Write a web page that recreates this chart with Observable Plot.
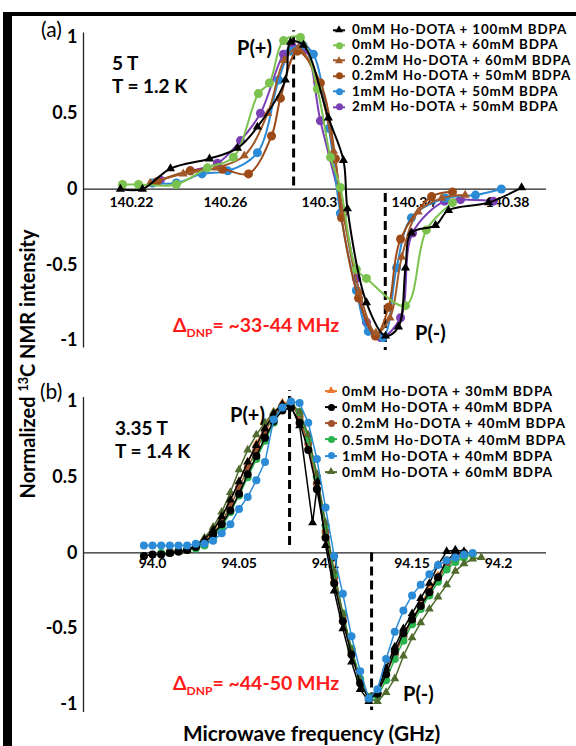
<!DOCTYPE html>
<html><head><meta charset="utf-8">
<script src="https://cdn.jsdelivr.net/npm/d3@7"></script>
<script src="https://cdn.jsdelivr.net/npm/@observablehq/plot@0.6"></script>
<style>
html,body{margin:0;padding:0;background:#fff;}
#root{position:relative;width:576px;height:746px;overflow:hidden;font-family:Lato,"Open Sans",sans-serif;color:#000;background:#fff;}
.abs{position:absolute;white-space:nowrap;line-height:1;}
.svgbox{position:absolute;left:0;}
</style></head><body><div id="root"></div>
<script>
// ---------- axes / ticks ----------
const aXDomain = [140.1996, 140.3966];
const aYDomain = [-1.05, 1.03];
const bXDomain = [93.9601, 94.2277];
const bYDomain = [-1.053, 1.026];
const yTicks = [-1, -0.5, 0, 0.5, 1];
const aTickVals = [140.22, 140.26, 140.30, 140.34, 140.38];
const aTickLabels = ["140.22", "140.26", "140.3", "140.34", "140.38"];
const bTickVals = [94.0, 94.05, 94.1, 94.15, 94.2];
const bTickLabels = ["94.0", "94.05", "94.1", "94.15", "94.2"];

// ---------- P(+)/P(-) markers ----------
const aPeakX = [140.289, 140.328];
const aPeakFrom = [0.02, -0.03];
const aPeakTo = [1.045, -1.066];
const bPeakX = [94.0792, 94.1266];
const bPeakFrom = [0.05, 0.0];
const bPeakTo = [1.07, -1.04];

// ---------- panel (a) series : [frequency GHz, normalized intensity] ----------
const a_0Ho_100BDPA = [[140.2153,0.0],[140.2247,0.0],[140.2366,0.135],[140.2532,0.2],[140.2651,0.27],[140.2736,0.41],[140.2855,0.72],[140.2877,0.97],[140.2932,0.95],[140.3038,0.47],[140.3102,0.19],[140.3119,-0.13],[140.32,-0.75],[140.3281,-0.97],[140.3336,-0.91],[140.3366,-0.52],[140.3391,-0.29],[140.3494,-0.24],[140.3549,-0.14],[140.3719,-0.09],[140.386,0.01]];
const a_0Ho_60BDPA = [[140.2162,0.03],[140.223,0.03],[140.2391,0.03],[140.2523,0.14],[140.2634,0.21],[140.274,0.63],[140.2787,0.70],[140.2847,0.98],[140.2919,1.0],[140.2991,0.66],[140.3047,0.21],[140.3089,0.01],[140.3157,-0.53],[140.32,-0.59],[140.3366,-0.77],[140.3455,-0.27],[140.3566,-0.09]];
const a_02Ho_60BDPA = [[140.228,0.04],[140.242,0.10],[140.256,0.14],[140.268,0.22],[140.278,0.50],[140.285,0.85],[140.291,0.93],[140.299,0.72],[140.306,0.25],[140.310,-0.15],[140.317,-0.68],[140.324,-0.95],[140.330,-0.85],[140.335,-0.45],[140.342,-0.15],[140.352,-0.06],[140.362,-0.04]];
const a_02Ho_50BDPA = [[140.231,0.05],[140.245,0.12],[140.2587,0.13],[140.2698,0.10],[140.2796,0.35],[140.2834,0.60],[140.2906,0.91],[140.3004,0.70],[140.3068,0.20],[140.3094,-0.19],[140.3166,-0.72],[140.3238,-0.97],[140.3294,-0.78],[140.3345,-0.33],[140.3477,-0.05],[140.3566,-0.02]];
const a_1Ho_50BDPA = [[140.229,0.04],[140.2391,0.04],[140.25,0.10],[140.261,0.12],[140.2736,0.24],[140.2826,0.72],[140.2877,0.91],[140.293,0.95],[140.2974,0.89],[140.304,0.40],[140.3089,-0.16],[140.3157,-0.67],[140.3208,-0.94],[140.327,-0.98],[140.3328,-0.52],[140.3391,-0.19],[140.3536,-0.06],[140.3664,-0.04],[140.3774,0.0]];
const a_2Ho_50BDPA = [[140.2323,0.06],[140.2451,0.12],[140.2566,0.17],[140.2664,0.32],[140.2749,0.50],[140.2847,0.89],[140.2885,0.94],[140.294,0.92],[140.3004,0.45],[140.3102,-0.16],[140.3157,-0.59],[140.32,-0.88],[140.326,-0.98],[140.3345,-0.85],[140.3396,-0.29],[140.3532,-0.08],[140.36,-0.07],[140.374,-0.08]];

// ---------- panel (b) series ----------
const b_0Ho_30BDPA = [[94.01,0.0],[94.015,0.01],[94.02,0.02],[94.025,0.04],[94.03,0.08],[94.035,0.14],[94.04,0.23],[94.045,0.35],[94.05,0.47],[94.055,0.6],[94.06,0.72],[94.065,0.83],[94.07,0.93],[94.075,0.99],[94.08,1.0],[94.085,0.9],[94.09,0.7],[94.095,0.44],[94.1,0.12],[94.105,-0.18],[94.11,-0.44],[94.115,-0.66],[94.12,-0.85],[94.125,-0.96],[94.13,-0.92],[94.135,-0.79],[94.14,-0.66],[94.145,-0.54],[94.15,-0.44],[94.155,-0.34],[94.16,-0.24],[94.165,-0.15],[94.17,-0.07],[94.175,-0.02],[94.18,0.0]];
const b_0Ho_40BDPA = [[93.995,-0.02],[94.0,-0.01],[94.005,-0.01],[94.01,0.0],[94.015,0.01],[94.02,0.02],[94.025,0.04],[94.03,0.07],[94.035,0.12],[94.04,0.19],[94.045,0.28],[94.05,0.39],[94.055,0.52],[94.06,0.64],[94.065,0.76],[94.07,0.87],[94.075,0.94],[94.08,0.96],[94.085,0.86],[94.09,0.68],[94.095,0.42],[94.1,0.1],[94.105,-0.2],[94.11,-0.45],[94.115,-0.67],[94.12,-0.86],[94.125,-0.96],[94.13,-0.93],[94.135,-0.8],[94.14,-0.65],[94.145,-0.53],[94.15,-0.44],[94.155,-0.35],[94.16,-0.26],[94.165,-0.16],[94.17,-0.05],[94.175,0.0],[94.18,0.0]];
const b_02Ho_40BDPA = [[94.01,0.01],[94.015,0.01],[94.02,0.02],[94.025,0.04],[94.03,0.07],[94.035,0.12],[94.04,0.2],[94.045,0.31],[94.05,0.43],[94.055,0.56],[94.06,0.68],[94.065,0.8],[94.07,0.9],[94.075,0.97],[94.08,0.98],[94.085,0.9],[94.09,0.72],[94.095,0.46],[94.1,0.14],[94.105,-0.16],[94.11,-0.42],[94.115,-0.64],[94.12,-0.84],[94.125,-0.95],[94.13,-0.93],[94.135,-0.8],[94.14,-0.67],[94.145,-0.55],[94.15,-0.45],[94.155,-0.35],[94.16,-0.26],[94.165,-0.17],[94.17,-0.09],[94.175,-0.04],[94.18,-0.01]];
const b_05Ho_40BDPA = [[94.005,0.0],[94.01,0.0],[94.015,0.01],[94.02,0.02],[94.025,0.03],[94.03,0.05],[94.035,0.1],[94.04,0.17],[94.045,0.27],[94.05,0.38],[94.055,0.5],[94.06,0.62],[94.065,0.74],[94.07,0.86],[94.075,0.95],[94.08,0.99],[94.085,0.93],[94.09,0.75],[94.095,0.5],[94.1,0.18],[94.105,-0.14],[94.11,-0.4],[94.115,-0.63],[94.12,-0.83],[94.125,-0.95],[94.13,-0.95],[94.135,-0.84],[94.14,-0.7],[94.145,-0.58],[94.15,-0.47],[94.155,-0.37],[94.16,-0.28],[94.165,-0.19],[94.17,-0.11],[94.175,-0.06],[94.18,-0.03],[94.185,-0.01]];
const b_1Ho_40BDPA = [[93.995,0.05],[94.0,0.05],[94.005,0.05],[94.01,0.05],[94.015,0.05],[94.02,0.05],[94.025,0.06],[94.03,0.06],[94.035,0.08],[94.04,0.13],[94.045,0.19],[94.05,0.29],[94.055,0.37],[94.06,0.48],[94.065,0.6],[94.07,0.88],[94.075,0.96],[94.08,1.0],[94.085,0.99],[94.09,0.86],[94.095,0.62],[94.1,0.3],[94.105,-0.02],[94.11,-0.27],[94.115,-0.55],[94.12,-0.78],[94.125,-0.96],[94.13,-0.9],[94.135,-0.7],[94.14,-0.52],[94.145,-0.38],[94.15,-0.28],[94.155,-0.21],[94.16,-0.14],[94.165,-0.08],[94.17,-0.05],[94.175,-0.03],[94.18,-0.01],[94.185,0.0]];
const b_0Ho_60BDPA = [[94.015,0.01],[94.02,0.02],[94.025,0.05],[94.03,0.1],[94.035,0.17],[94.04,0.27],[94.045,0.4],[94.05,0.55],[94.055,0.68],[94.06,0.78],[94.065,0.86],[94.07,0.93],[94.075,0.98],[94.08,0.99],[94.085,0.93],[94.09,0.78],[94.095,0.52],[94.1,0.2],[94.105,-0.12],[94.11,-0.4],[94.115,-0.64],[94.12,-0.84],[94.125,-0.96],[94.13,-0.98],[94.135,-0.92],[94.14,-0.83],[94.145,-0.68],[94.15,-0.56],[94.155,-0.46],[94.16,-0.37],[94.165,-0.29],[94.17,-0.21],[94.175,-0.12],[94.18,-0.07],[94.185,-0.04],[94.19,-0.03]];
const b_unlabeledTri = [[94.01,0.0],[94.015,0.01],[94.02,0.02],[94.025,0.05],[94.03,0.09],[94.035,0.15],[94.04,0.24],[94.045,0.35],[94.05,0.47],[94.055,0.6],[94.06,0.71],[94.065,0.82],[94.07,0.92],[94.075,0.98],[94.08,0.97],[94.085,0.84],[94.0925,0.2],[94.0955,0.47],[94.1,0.05],[94.105,-0.25],[94.11,-0.5],[94.115,-0.72],[94.12,-0.9],[94.125,-0.98],[94.13,-0.91],[94.135,-0.76],[94.14,-0.62],[94.145,-0.5],[94.15,-0.4],[94.155,-0.3],[94.16,-0.2],[94.165,-0.08],[94.17,0.01],[94.175,0.02],[94.18,0.01]];

// ---------- series names / styles ----------
const aNames = ["0mM Ho-DOTA + 100mM BDPA","0mM Ho-DOTA + 60mM BDPA","0.2mM Ho-DOTA + 60mM BDPA","0.2mM Ho-DOTA + 50mM BDPA","1mM Ho-DOTA + 50mM BDPA","2mM Ho-DOTA + 50mM BDPA"];
const aData = [a_0Ho_100BDPA, a_0Ho_60BDPA, a_02Ho_60BDPA, a_02Ho_50BDPA, a_1Ho_50BDPA, a_2Ho_50BDPA];
const aColors = ["#000000","#7cc24f","#a25a2a","#9c4a17","#2b8bd6","#7b3fb5"];
const aSymbols = ["triangle","circle","triangle","circle","circle","circle"];
const aDrawOrder = [5,4,3,2,1,0];

const bNames = ["0mM Ho-DOTA + 30mM BDPA","0mM Ho-DOTA + 40mM BDPA","0.2mM Ho-DOTA + 40mM BDPA","0.5mM Ho-DOTA + 40mM BDPA","1mM Ho-DOTA + 40mM BDPA","0mM Ho-DOTA + 60mM BDPA"];
const bData = [b_0Ho_30BDPA, b_0Ho_40BDPA, b_02Ho_40BDPA, b_05Ho_40BDPA, b_1Ho_40BDPA, b_0Ho_60BDPA];
const bColors = ["#e8772e","#000000","#a0522d","#29b34d","#2b8bd6","#4f6b2d"];
const bSymbols = ["triangle","circle","circle","circle","circle","triangle"];
const bDrawOrder = [0,2,3,5,1,4];

const root = document.getElementById("root");

function seriesMarks(dataList, colors, symbols, order, curve, lw, rc, rt, extra) {
  const marks = [];
  const all = order.map(i => ({d: dataList[i], c: colors[i], s: symbols[i]}));
  if (extra) all.splice(extra.at, 0, extra);
  for (const s of all) {
    marks.push(Plot.line(s.d, {x: d => d[0], y: d => d[1], stroke: s.c, strokeWidth: lw, curve}));
    marks.push(Plot.dot(s.d, {x: d => d[0], y: d => d[1], fill: s.c, stroke: "none", symbol: s.s, r: s.s === "triangle" ? rt : rc}));
  }
  return marks;
}

function makePanel(o) {
  return Plot.plot({
    width: 576, height: o.h,
    marginLeft: 83, marginRight: 30, marginTop: o.mt, marginBottom: o.mb,
    style: {fontFamily: "Lato, 'Open Sans', sans-serif", background: "transparent", color: "#000", overflow: "visible"},
    x: {domain: o.xDom, axis: null},
    y: {domain: o.yDom, axis: null},
    marks: [
      Plot.ruleX([o.xDom[0]], {stroke: "#222", strokeWidth: 1.3}),
      Plot.ruleY([0], {stroke: "#222", strokeWidth: 1.3}),
      Plot.axisY(yTicks, {tickSize: 0, tickPadding: 6, fontSize: 18, fontWeight: "bold", fill: "#000", tickFormat: d => String(d)}),
      Plot.text(o.tickVals, {x: d => d, y: () => 0, text: (d, i) => o.tickLabels[i], dy: o.tickDy, fontSize: 14, fontWeight: "bold", fill: "#000"}),
      Plot.ruleX(o.peakX, {x: d => d, y1: (d, i) => o.peakFrom[i], y2: (d, i) => o.peakTo[i], stroke: "#000", strokeWidth: 3, strokeDasharray: "9,5"}),
      ...o.series
    ]
  });
}

const svgA = makePanel({
  h: 360, mt: 32.5, mb: 12.4, xDom: aXDomain, yDom: aYDomain,
  tickVals: aTickVals, tickLabels: aTickLabels, tickDy: 13,
  peakX: aPeakX, peakFrom: aPeakFrom, peakTo: aPeakTo,
  series: seriesMarks(aData, aColors, aSymbols, aDrawOrder, "catmull-rom", 2, 4.5, 3.4)
});
const svgB = makePanel({
  h: 386, mt: 37, mb: 34, xDom: bXDomain, yDom: bYDomain,
  tickVals: bTickVals, tickLabels: bTickLabels, tickDy: 11,
  peakX: bPeakX, peakFrom: bPeakFrom, peakTo: bPeakTo,
  series: seriesMarks(bData, bColors, bSymbols, bDrawOrder, "linear", 1.5, 4, 3.3,
    {d: b_unlabeledTri, c: "#000000", s: "triangle", at: 4})
});
const boxA = document.createElement("div"); boxA.className = "svgbox"; boxA.style.top = "0px"; boxA.appendChild(svgA); root.appendChild(boxA);
const boxB = document.createElement("div"); boxB.className = "svgbox"; boxB.style.top = "360px"; boxB.appendChild(svgB); root.appendChild(boxB);

// ---------- text annotations ----------
function put(html, x, yc, css) {
  const el = document.createElement("div");
  el.className = "abs";
  el.innerHTML = html;
  el.style.left = x + "px";
  el.style.top = yc + "px";
  el.style.transform = "translateY(-50%)";
  if (css) el.style.cssText += css;
  root.appendChild(el);
  return el;
}
put("(a)", 41, 28, "font-size:21px;");
put("(b)", 40, 390, "font-size:21px;");
put("5 T", 112, 62, "font-size:19px;font-weight:bold;");
put("T = 1.2 K", 112, 85, "font-size:19px;font-weight:bold;");
put("3.35 T", 115, 427, "font-size:19px;font-weight:bold;");
put("T = 1.4 K", 115, 450, "font-size:19px;font-weight:bold;");
put("P(+)", 237, 47, "font-size:20px;font-weight:bold;");
put("P(-)", 415, 332, "font-size:20px;font-weight:bold;");
put("P(+)", 230, 414, "font-size:20px;font-weight:bold;");
put("P(-)", 403, 693, "font-size:20px;font-weight:bold;");
const dnp = (v) => `Δ<span style="font-size:12px;position:relative;top:5px;">DNP</span>= ~${v} MHz`;
put(dnp("33-44"), 173, 325, "font-size:19.5px;font-weight:bold;color:#ff1a1a;");
put(dnp("44-50"), 173, 683, "font-size:19.5px;font-weight:bold;color:#ff1a1a;");
put("Microwave frequency (GHz)", 183, 733, "font-size:20.8px;font-weight:bold;");
const yl = put(`Normalized <span style="font-size:12.5px;position:relative;top:-7px;">13</span>C NMR intensity`, 27, 364,
  "font-size:20px;font-weight:bold;");
yl.style.transform = "translate(-50%,-50%) rotate(-90deg)";

// ---------- legends ----------
function legend(names, colors, symbols, left, top0, step, gap, fs, ls) {
  names.forEach((n, i) => {
    const row = put("", left, top0 + i * step, `display:flex;align-items:center;font-size:${fs}px;font-weight:bold;letter-spacing:${ls}px;height:${fs}px;`);
    const sw = document.createElement("span");
    sw.style.cssText = `position:relative;display:inline-block;width:12px;height:10px;margin-right:${gap}px;`;
    const ln = document.createElement("span");
    ln.style.cssText = `position:absolute;left:0;width:12px;top:4px;height:2px;background:${colors[i]};`;
    sw.appendChild(ln);
    const mk = document.createElement("span");
    if (symbols[i] === "circle") {
      mk.style.cssText = `position:absolute;left:2.5px;top:1.5px;width:7px;height:7px;border-radius:50%;background:${colors[i]};`;
    } else {
      mk.style.cssText = `position:absolute;left:2px;top:0.5px;width:0;height:0;border-left:4px solid transparent;border-right:4px solid transparent;border-bottom:7px solid ${colors[i]};`;
    }
    sw.appendChild(mk);
    row.appendChild(sw);
    const t = document.createElement("span");
    t.textContent = n;
    t.style.lineHeight = "1";
    row.appendChild(t);
  });
}
legend(aNames, aColors, aSymbols, 333, 30, 15.4, 7, 13.4, 0.85);
legend(bNames, bColors, bSymbols, 325, 391, 16.2, 5, 13.8, 0.8);

// ---------- outer frame ----------
const fr = document.createElement("div");
fr.style.cssText = "position:absolute;left:3px;top:12px;width:564px;height:800px;border-left:9px solid #000;border-top:4px solid #000;border-right:5px solid #000;pointer-events:none;";
root.appendChild(fr);
</script></body></html>
